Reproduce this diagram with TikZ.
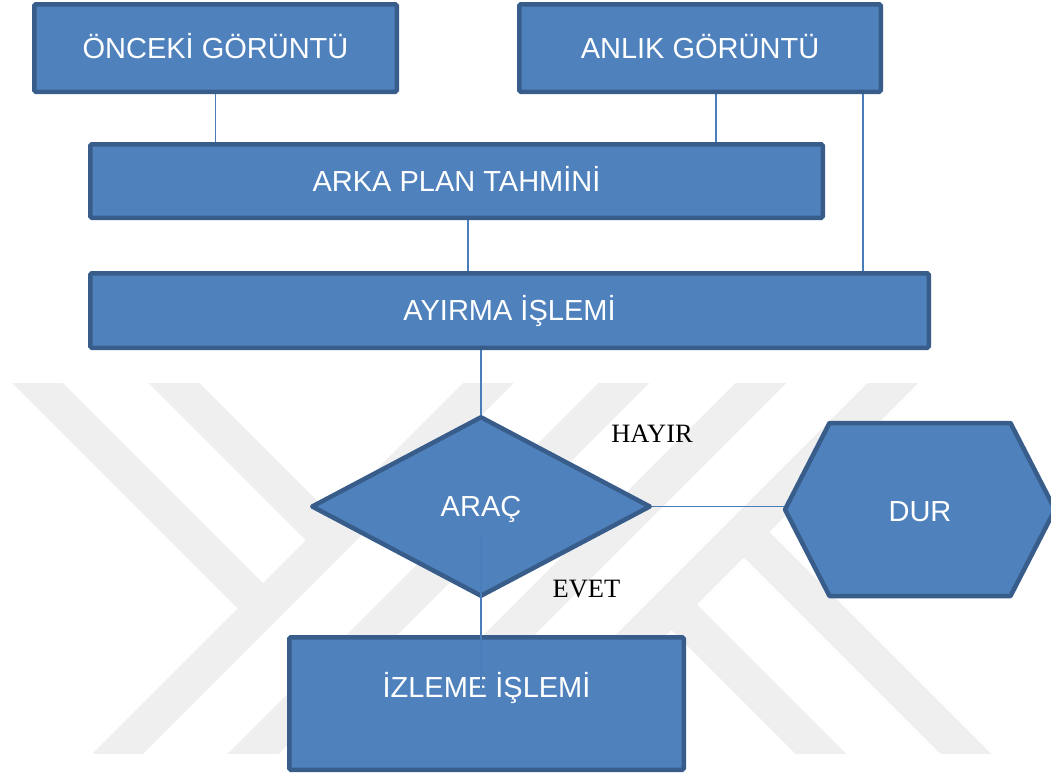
\documentclass[tikz,border=0pt]{standalone}
\usepackage{fontspec}
\setmainfont{Liberation Serif}
\newfontfamily\arialf{Liberation Sans}
\usetikzlibrary{shapes.geometric}
\definecolor{boxfill}{HTML}{4F81BD}
\definecolor{boxline}{HTML}{385D8A}
\definecolor{connc}{HTML}{4A7EBB}
\definecolor{wmark}{HTML}{EFEFEF}
\pgfdeclarelayer{bglayer}
\pgfsetlayers{bglayer,main}
\begin{document}
\begin{tikzpicture}[x=1pt,y=-1pt,
  shapebox/.style={draw=boxline, fill=boxfill, line width=4.5pt, rounded corners=1.5pt,
    inner sep=0pt, outer sep=0pt, text=white, font=\arialf\fontsize{29}{29}\selectfont,
    text height=20pt, text depth=0pt},
  shapetext/.style={text=white, font=\arialf\fontsize{29}{29}\selectfont,
    text height=20pt, text depth=0pt, inner sep=0pt},
  connline/.style={draw=connc, line width=1.6pt},
  wmband/.style={draw=wmark, line width=36pt},
  lbl/.style={font=\fontsize{26.5}{26.5}\selectfont, text=black, inner sep=0pt, anchor=base}]
\useasboundingbox (0,0) rectangle (1051,774);

% shapes
\node[shapebox, minimum width=362.5pt, minimum height=87.5pt] (prev) at (215.5,48) {ÖNCEKİ GÖRÜNTÜ};
\node[shapebox, minimum width=361.5pt, minimum height=87.5pt] (curr) at (700,48) {ANLIK GÖRÜNTÜ};
\node[shapebox, minimum width=732.5pt, minimum height=73.5pt] (bg) at (456.5,181) {ARKA PLAN TAHMİNİ};
\node[shapebox, minimum width=838.5pt, minimum height=74.5pt] (sub) at (509.5,310.5) {AYIRMA İŞLEMİ};
\node[shapebox, diamond, rounded corners=0pt, line join=round, minimum width=337.5pt, minimum height=178.5pt] (arac) at (481,506.5) {ARAÇ};
\node[shapebox, minimum width=394.5pt, minimum height=132.5pt, text depth=33pt] (track) at (486.5,703.5) {İZLEME İŞLEMİ};

\coordinate (hw) at (785,509.5);
\coordinate (hnw) at (829.5,423);
\coordinate (hne) at (1010.5,423);
\coordinate (he) at (1055,509.5);
\coordinate (hse) at (1010.5,596);
\coordinate (hsw) at (829.5,596);
\draw[draw=boxline, fill=boxfill, line width=4.5pt, line join=round]
  (hw) -- (hnw) -- (hne) -- (he) -- (hse) -- (hsw) -- cycle;
\node[shapetext] (dur) at (920,511) {DUR};

% labels
\node[lbl] (hayir) at (652,442) {HAYIR};
\node[lbl] (evet) at (586.5,597) {EVET};

% background: watermark and connectors
\begin{pgfonlayer}{bglayer}
  \fill[white] (0,0) rectangle (1051,774);
  \begin{scope}
    \clip (0,383) rectangle (1051,753);
    \draw[wmband] (528.5,343) -- (78.5,793);
    \draw[wmband] (664,343) -- (214,793);
    \draw[wmband] (801,343) -- (351,793);
    \draw[wmband] (933,343) -- (483,793);
    \draw[wmband] (-2.5,343) -- (263,608.5);
    \draw[wmband] (134,343) -- (331.25,540.25);
    \draw[wmband] (671.5,604.5) -- (860,793);
    \draw[wmband] (744,532) -- (1005,793);
  \end{scope}
  \coordinate (c716) at (716,0);
  \coordinate (c863) at (863,0);
  \coordinate (c468) at (468,0);
  \draw[connline] (prev.south) -- (prev.south |- bg.north);
  \draw[connline] (curr.south -| c716) -- (bg.north -| c716);
  \draw[connline] (curr.south -| c863) -- (sub.north -| c863);
  \draw[connline] (bg.south -| c468) -- (sub.north -| c468);
  \draw[connline] (sub.south -| arac.north) -- (arac.north);
  \draw[connline] (arac.east) -- (arac.east -| hw);
\end{pgfonlayer}

% yes branch drawn over shapes
\coordinate (ev1) at (481,535);
\coordinate (ev2) at (481,688);
\draw[connline] (ev1) -- (ev2);
\end{tikzpicture}
\end{document}
